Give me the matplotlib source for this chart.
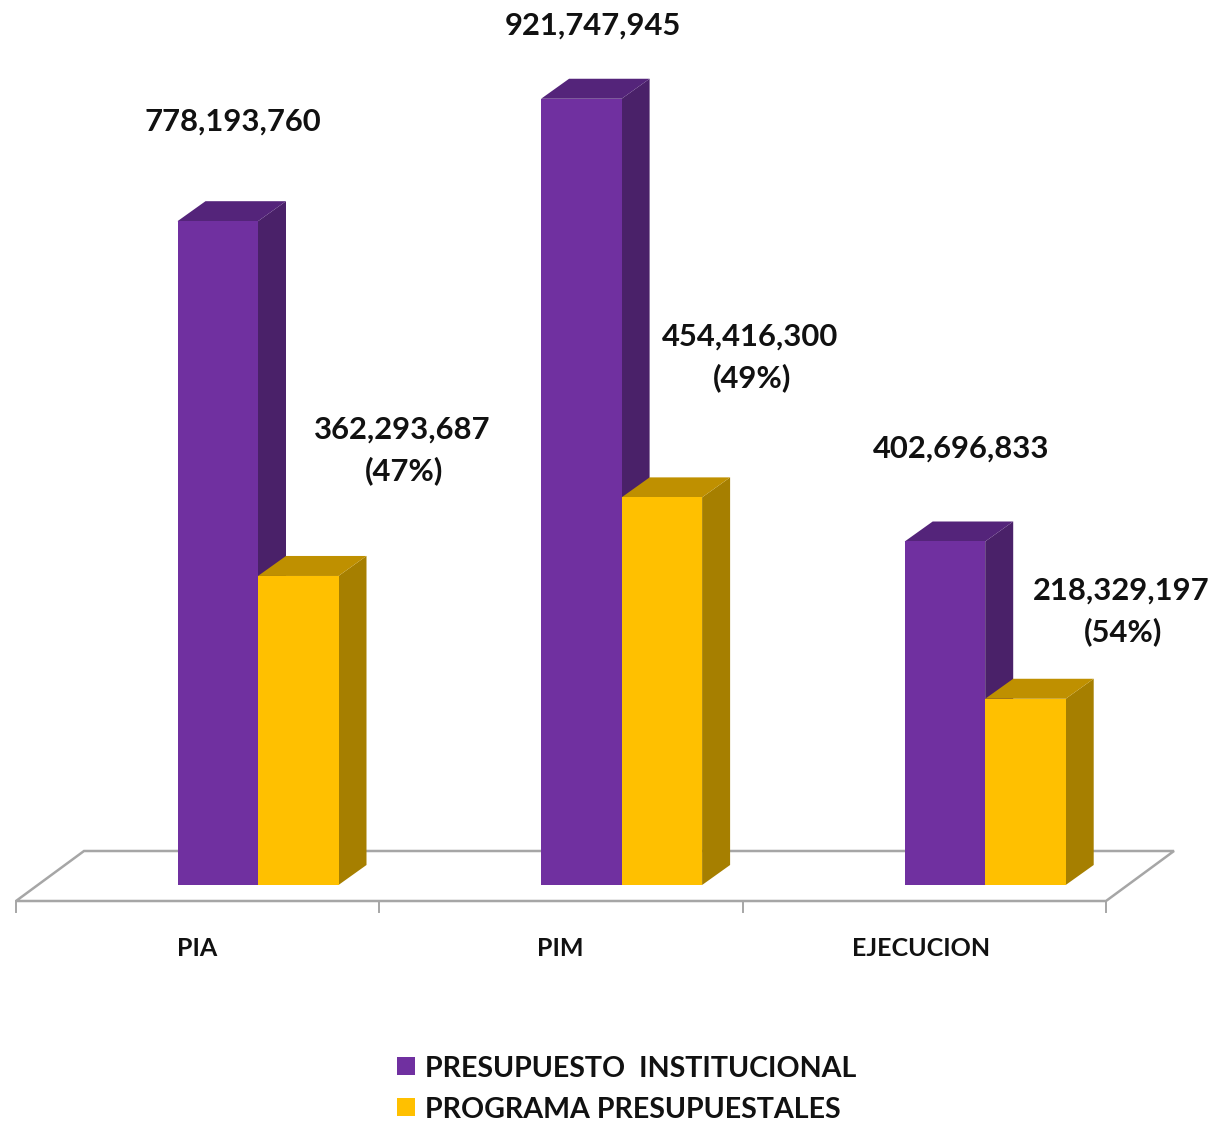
#!/usr/bin/python3
import matplotlib
matplotlib.use('Agg')
import matplotlib.pyplot as plt
from matplotlib.patches import Polygon

# datos
categorias = ['PIA', 'PIM', 'EJECUCION']
institucional = [778193760, 921747945, 402696833]
programa = [362293687, 454416300, 218329197]
porcentajes = ['47%', '49%', '54%']
nombres = ['PRESUPUESTO  INSTITUCIONAL', 'PROGRAMA PRESUPUESTALES']

# estilo
MORADO = ('#7030A0', '#4A2169', '#54247A')
AMARILLO = ('#FFC000', '#A67F00', '#BF9000')
GRIS = '#A6A6A6'
FUENTE = 'Lato'
W, H = 1213, 1121
PX_X = 363.6          # pixeles por categoria
PX_Y = 0.853e-6       # pixeles por unidad de valor
X0, Y0 = 258, 885     # pixel de la categoria 0, valor 0
ANCHO = 80.5 / PX_X
PROF_X = 28 / PX_X
PROF_Y = 20 / PX_Y


def px(x, y):
    """Pasa de pixeles de la imagen a coordenadas de datos"""
    return (x - X0) / PX_X, (Y0 - y) / PX_Y


def barra_3d(ax, x, valor, colores, z):
    """Barra con cara frontal, lateral y superior"""
    ax.bar(x, valor, ANCHO, align='edge', color=colores[0], zorder=z + 0.2)
    der = x + ANCHO
    lado = [(der, 0), (der + PROF_X, PROF_Y), (der + PROF_X, valor + PROF_Y), (der, valor)]
    techo = [(x, valor), (x + PROF_X, valor + PROF_Y), (der + PROF_X, valor + PROF_Y), (der, valor)]
    ax.add_patch(Polygon(lado, closed=True, fc=colores[1], ec='none', zorder=z))
    ax.add_patch(Polygon(techo, closed=True, fc=colores[2], ec='none', zorder=z))


def etiqueta(ax, x, y, texto, size=22.3):
    ax.text(*px(x, y), texto, ha='center', va='center', fontsize=size,
            fontweight='bold', family=FUENTE, color='#111111', zorder=10)


fig = plt.figure(figsize=(W / 100, H / 100), dpi=100)
ax = fig.add_axes([0, 0, 1, 1])
ax.set_xlim(px(0, 0)[0], px(W, 0)[0])
ax.set_ylim(px(0, H)[1], px(0, 0)[1])
ax.axis('off')

# piso
piso = [px(16, 901), px(84, 851), px(1174, 851), px(1106, 901)]
ax.add_patch(Polygon(piso, closed=True, fc='white', ec=GRIS, lw=1.8, zorder=1))
for i in range(len(categorias) + 1):
    x_tick = px(16 + i * 363.3, 0)[0]
    ax.plot([x_tick, x_tick], [px(0, 901)[1], px(0, 912)[1]], color=GRIS, lw=1.4, zorder=1)

# barras
for i in range(len(categorias)):
    barra_3d(ax, i - ANCHO, institucional[i], MORADO, 2 + i * 2)
    barra_3d(ax, i, programa[i], AMARILLO, 3 + i * 2)

# etiquetas de valores
pos_inst = [(233, 122), (593, 26), (961, 449)]
pos_prog = [(402, 430), (750, 337), (1121, 591)]
for i in range(len(categorias)):
    etiqueta(ax, *pos_inst[i], f'{institucional[i]:,}')
    etiqueta(ax, *pos_prog[i], f'{programa[i]:,}')
    etiqueta(ax, pos_prog[i][0] + 2, pos_prog[i][1] + 41, f'({porcentajes[i]})')

# categorias
for x, c in zip([197, 560, 921], categorias):
    etiqueta(ax, x, 948, c, size=18)

# leyenda
for y, color, nombre in zip([1066, 1107], [MORADO[0], AMARILLO[0]], nombres):
    xa, ya = px(397, y + 9)
    xb, yb = px(415, y - 9)
    ax.bar(xa, yb - ya, xb - xa, bottom=ya, align='edge', color=color, zorder=5)
    ax.text(*px(425, y + 3), nombre, ha='left', va='center', fontsize=20.6,
            family=FUENTE, fontweight='bold', color='#111111', zorder=10)

fig.savefig('out.png', dpi=100)
